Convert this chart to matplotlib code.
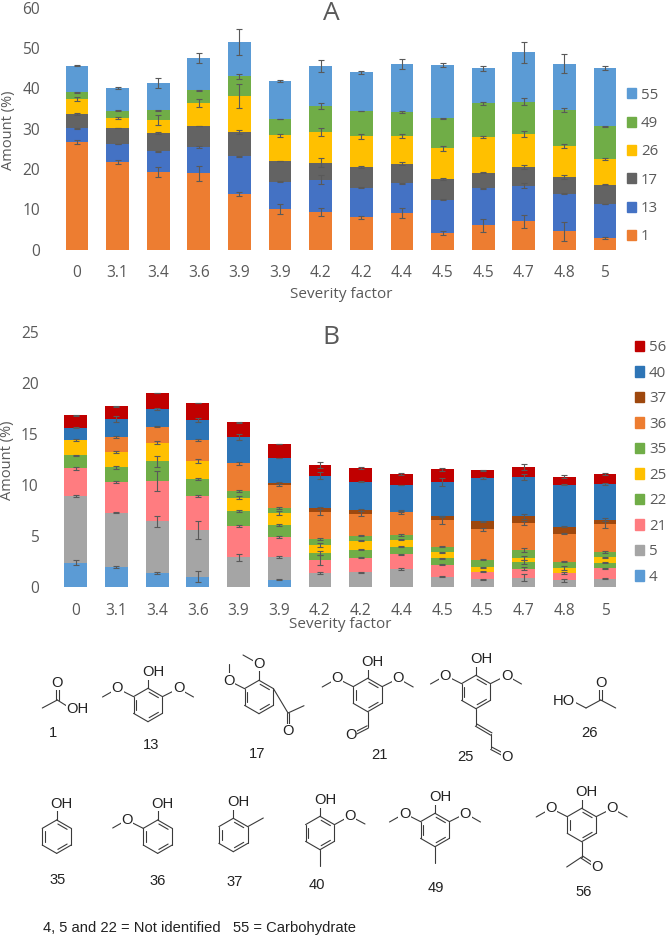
import numpy as np
import matplotlib
matplotlib.use('Agg')
import matplotlib.pyplot as plt
from matplotlib.patches import Patch

W, H = 666, 936
GREY = '#595959'
INK = '#3a3a3a'

plt.rcParams['font.family'] = ['Open Sans', 'DejaVu Sans']

severity = ['0', '3.1', '3.4', '3.6', '3.9', '3.9', '4.2', '4.2', '4.4', '4.5', '4.5', '4.7', '4.8', '5']

# panel A, bottom to top
labels_a = ['1', '13', '17', '26', '49', '55']
colors_a = ['#ED7D31', '#4472C4', '#636363', '#FFC000', '#70AD47', '#5B9BD5']
a_1 = [26.6, 21.8, 19.3, 18.9, 13.8, 10.1, 9.2, 8.0, 9.1, 4.1, 6.0, 7.0, 4.5, 2.8]
a_13 = [3.5, 4.4, 5.1, 6.5, 9.4, 6.7, 8.1, 7.4, 7.3, 8.3, 9.2, 8.9, 9.4, 8.5]
a_17 = [3.6, 4.0, 4.5, 5.3, 6.0, 5.2, 4.3, 5.1, 4.9, 5.1, 3.9, 4.6, 4.0, 4.8]
a_26 = [3.7, 2.4, 3.2, 5.7, 9.0, 6.4, 7.6, 7.6, 6.9, 7.6, 8.8, 8.2, 7.9, 6.4]
a_49 = [1.7, 1.9, 2.5, 3.2, 4.8, 4.0, 6.5, 6.3, 6.0, 7.5, 8.4, 8.0, 8.9, 8.1]
a_55 = [6.6, 5.7, 6.8, 8.0, 8.6, 9.4, 9.9, 9.6, 11.9, 13.3, 8.7, 12.3, 11.5, 14.6]
err_a_1 = [0.5, 0.5, 1.2, 1.8, 0.5, 1.2, 1.0, 0.3, 1.2, 0.6, 1.7, 1.6, 2.3, 0.3]
err_a_13 = [0.1, 0.1, 0.1, 0.2, 0.1, 0.1, 1.1, 0.2, 0.2, 0.2, 0.2, 0.6, 0.1, 0.1]
err_a_17 = [0.2, 0.1, 0.2, 0.1, 0.5, 0.1, 1.1, 0.3, 0.4, 0.3, 0.05, 0.6, 0.5, 0.1]
err_a_26 = [0.4, 0.2, 1.2, 0.9, 3.0, 0.4, 0.9, 0.7, 0.6, 0.6, 0.3, 0.7, 0.5, 0.3]
err_a_49 = [0.1, 0.1, 0.1, 0.1, 0.6, 0.05, 0.8, 0.05, 0.2, 0.1, 0.3, 0.9, 0.5, 0.05]
err_a_55 = [0.05, 0.2, 1.2, 1.3, 3.3, 0.2, 1.6, 0.4, 1.3, 0.5, 0.6, 2.6, 2.3, 0.5]

# panel B, bottom to top
labels_b = ['4', '5', '21', '22', '25', '35', '36', '37', '40', '56']
colors_b = ['#5B9BD5', '#A5A5A5', '#FF7C80', '#70AD47', '#FFC000', '#70AD47', '#ED7D31', '#9E480E', '#2E75B6', '#C00000']
b_4 = [2.35, 1.96, 1.37, 1.0, 0, 0.7, 0, 0, 0, 0, 0, 0, 0, 0]
b_5 = [6.55, 5.29, 5.03, 4.55, 2.9, 2.2, 1.37, 1.4, 1.75, 1.0, 0.75, 0.9, 0.65, 0.8]
b_21 = [2.7, 3.05, 3.95, 3.35, 3.05, 2.0, 1.23, 1.45, 1.45, 1.15, 0.7, 0.85, 0.7, 1.0]
b_22 = [1.3, 1.4, 1.95, 1.7, 1.45, 1.15, 0.7, 0.75, 0.7, 0.65, 0, 0.65, 0, 0.55]
b_25 = [1.5, 1.5, 1.8, 1.7, 1.3, 1.2, 0.8, 0.9, 0.7, 0.6, 0.45, 0.45, 0.45, 0.55]
b_35 = [0, 0, 0, 0, 0.7, 0.5, 0.6, 0.5, 0.45, 0.5, 0.75, 0.75, 0.65, 0.5]
b_36 = [0, 1.5, 1.6, 2.05, 2.7, 2.25, 2.6, 2.15, 2.25, 2.6, 3.0, 2.65, 2.75, 2.7]
b_37 = [0, 0, 0, 0, 0, 0.2, 0.4, 0.4, 0.05, 0.4, 0.75, 0.65, 0.7, 0.45]
b_40 = [1.2, 1.7, 1.7, 1.95, 2.6, 2.4, 3.2, 2.75, 2.6, 3.4, 4.3, 3.85, 4.1, 3.5]
b_56 = [1.2, 1.3, 1.6, 1.7, 1.4, 1.4, 1.0, 1.3, 1.1, 1.2, 0.7, 0.95, 0.8, 1.0]
err_b_4 = [0.25, 0.1, 0.1, 0.55, 0, 0.05, 0, 0, 0, 0, 0, 0, 0, 0]
err_b_5 = [0.1, 0.05, 0.5, 0.85, 0.35, 0.1, 0.1, 0.05, 0.1, 0.05, 0.05, 0.3, 0.15, 0.05]
err_b_21 = [0.15, 0.1, 1.0, 0.1, 0.1, 0.1, 0.5, 0.05, 0.05, 0.05, 0.05, 0.15, 0.1, 0.05]
err_b_22 = [0.05, 0.15, 0.55, 0.1, 0.1, 0.1, 0.2, 0.05, 0.05, 0.05, 0, 0.2, 0, 0.05]
err_b_25 = [0.1, 0.1, 0.15, 0.2, 0.15, 0.2, 0.2, 0.05, 0.05, 0.05, 0.05, 0.2, 0.2, 0.05]
err_b_35 = [0, 0, 0, 0, 0.1, 0.1, 0.1, 0.05, 0.1, 0.05, 0.05, 0.15, 0.05, 0.1]
err_b_36 = [0, 0.1, 0.05, 0.1, 0.15, 0.1, 0.3, 0.25, 0.2, 0.4, 0.15, 0.2, 0.05, 0.3]
err_b_37 = [0, 0, 0, 0, 0, 0.1, 0.1, 0.1, 0.05, 0.05, 0.05, 0.25, 0.05, 0.15]
err_b_40 = [0.02, 0.3, 0.1, 0.2, 0.3, 0.02, 0.3, 0.02, 0.02, 0.4, 0.1, 0.3, 0.05, 0.1]
err_b_56 = [0.05, 0.05, 0.02, 0.02, 0.02, 0.03, 0.3, 0.1, 0.1, 0.15, 0.02, 0.3, 0.15, 0.1]

series_a = [a_1, a_13, a_17, a_26, a_49, a_55]
errors_a = [err_a_1, err_a_13, err_a_17, err_a_26, err_a_49, err_a_55]
series_b = [b_4, b_5, b_21, b_22, b_25, b_35, b_36, b_37, b_40, b_56]
errors_b = [err_b_4, err_b_5, err_b_21, err_b_22, err_b_25, err_b_35, err_b_36, err_b_37, err_b_40, err_b_56]


def px_axes(left, right, top, bottom):
    return fig.add_axes([left / W, 1 - bottom / H, (right - left) / W, (bottom - top) / H])


def stacked(ax, series, errors, colors, ymax, yticks):
    x = np.arange(len(severity))
    bottom = np.zeros(len(severity))
    for vals, errs, col in zip(series, errors, colors):
        vals = np.array(vals, dtype=float)
        ax.bar(x, vals, 0.56, bottom=bottom, color=col, zorder=2)
        bottom = bottom + vals
        show = vals > 0
        ax.errorbar(x[show], bottom[show], yerr=np.array(errs)[show], fmt='none',
                    ecolor=GREY, elinewidth=0.8, capsize=2.4, capthick=0.8, zorder=3)
    ax.set_xlim(-0.5, len(severity) - 0.5)
    ax.set_ylim(0, ymax)
    ax.set_xticks(x)
    ax.set_xticklabels(severity)
    ax.set_yticks(yticks)
    ax.tick_params(length=0, labelsize=11.2, labelcolor=GREY)
    ax.tick_params(axis='x', pad=11.5)
    ax.tick_params(axis='y', pad=12)
    for s in ax.spines.values():
        s.set_visible(False)


def side_legend(ax, labels, colors, x, y, spacing):
    handles = [Patch(color=c, label=l) for c, l in zip(colors, labels)]
    leg = ax.legend(handles=handles[::-1], loc='center left', frameon=False,
                    bbox_to_anchor=(x / W, 1 - y / H), bbox_transform=fig.transFigure,
                    fontsize=10.8, labelcolor=GREY, handlelength=0.66, handleheight=0.66,
                    handletextpad=0.31, labelspacing=spacing, borderpad=0, borderaxespad=0)
    return leg


fig = plt.figure(figsize=(W / 100, H / 100), dpi=100)

ax_a = px_axes(56.7, 625.3, 8, 249.5)
stacked(ax_a, series_a, errors_a, colors_a, 60, [0, 10, 20, 30, 40, 50, 60])
side_legend(ax_a, labels_a, colors_a, 626.5, 166, 0.89)

ax_b = px_axes(55.3, 625.4, 331.7, 586.7)
stacked(ax_b, series_b, errors_b, colors_b, 25, [0, 5, 10, 15, 20, 25])
side_legend(ax_b, labels_b, colors_b, 634.5, 462.5, 0.7)

# structures and free text live on a pixel overlay
ov = fig.add_axes([0, 0, 1, 1], zorder=5)
ov.set_xlim(0, W)
ov.set_ylim(H, 0)
ov.axis('off')
ov.patch.set_alpha(0)

ov.text(331, 13, 'A', fontsize=19, color=GREY, ha='center', va='center')
ov.text(331, 338, 'B', fontsize=19, color=GREY, ha='center', va='center')
ov.text(9, 130, 'Amount (%)', fontsize=10.5, color=GREY, rotation=90, ha='center', va='center')
ov.text(8, 460, 'Amount (%)', fontsize=10.5, color=GREY, rotation=90, ha='center', va='center')
ov.text(341, 295, 'Severity factor', fontsize=11, color=GREY, ha='center', va='center')
ov.text(340.5, 625, 'Severity factor', fontsize=11, color=GREY, ha='center', va='center')


def bond(p, q, double=False):
    p, q = np.array(p, dtype=float), np.array(q, dtype=float)
    if double:
        d = q - p
        n = np.array([-d[1], d[0]]) / np.hypot(*d) * 1.3
        for s in (-1, 1):
            ov.plot([p[0] + s * n[0], q[0] + s * n[0]], [p[1] + s * n[1], q[1] + s * n[1]],
                    color=INK, lw=0.8, zorder=1, solid_capstyle='round')
    else:
        ov.plot([p[0], q[0]], [p[1], q[1]], color=INK, lw=0.8, zorder=1, solid_capstyle='round')


def atom(p, s):
    ov.text(p[0], p[1], s, fontsize=10.6, family='Liberation Sans', color='#222222', ha='center', va='center',
            zorder=2, bbox=dict(facecolor='white', edgecolor='none', pad=0.3))


def ring(cx, cy, r=16.7):
    ang = np.deg2rad(90 + 60 * np.arange(6))
    v = [(cx + r * np.cos(a), cy - r * np.sin(a)) for a in ang]
    c = np.array([cx, cy])
    for k in range(6):
        bond(v[k], v[(k + 1) % 6])
    for k in (1, 3, 5):
        p, q = np.array(v[k]), np.array(v[(k + 1) % 6])
        p2, q2 = c + (p - c) * 0.8, c + (q - c) * 0.8
        p3, q3 = p2 + (q2 - p2) * 0.1, q2 - (q2 - p2) * 0.1
        bond(p3, q3)
    return v


def hydroxyl(v, dx=5):
    p = (v[0][0], v[0][1] - 10)
    bond(v[0], p)
    atom((v[0][0] + dx, v[0][1] - 16), 'OH')


def methoxy(v, o, end):
    bond(v, o)
    bond(o, end)
    atom(o, 'O')


def syringyl(cx, cy):
    v = ring(cx, cy)
    hydroxyl(v)
    methoxy(v[1], (cx - 30.5, cy - 16.5), (cx - 45.5, cy - 8))
    methoxy(v[5], (cx + 30.5, cy - 16.5), (cx + 45.5, cy - 8))
    return v


# 1 acetic acid
bond((42.3, 708), (57.3, 700))
bond((57.3, 700), (57.3, 684), double=True)
bond((57.3, 700), (70, 708))
atom((57.3, 683), 'O')
atom((77.5, 709), 'OH')

# 13
syringyl(148, 705)

# 17
v = ring(259, 697)
bond(v[0], (259, 664))
atom((259, 664), 'O')
bond((259, 664), (243, 655))
bond(v[1], (229, 680.7))
atom((229, 680.7), 'O')
bond((229, 680.7), (229, 664))
bond(v[5], (288, 713))
bond((288, 713), (304, 705.7))
bond((288, 713), (288, 730), double=True)
atom((288, 731), 'O')

# 21
v = syringyl(367.7, 695)
bond(v[3], (367.7, 727))
bond((367.7, 727), (354, 734), double=True)
atom((351, 735), 'O')

# 25
v = syringyl(476, 692)
bond(v[3], (476, 725))
bond((476, 725), (491.3, 734), double=True)
bond((491.3, 734), (491.3, 748.3))
bond((491.3, 748.3), (504, 755), double=True)
atom((507, 757), 'O')

# 26
atom((564, 700.7), 'HO')
bond((572, 700.7), (586, 708))
bond((586, 708), (600.7, 700))
bond((600.7, 700), (600.7, 684), double=True)
atom((600.7, 683), 'O')
bond((600.7, 700), (615.7, 708))

# 35
hydroxyl(ring(56.7, 836.7))

# 36
v = ring(157.7, 836.7)
hydroxyl(v)
methoxy(v[1], (126.7, 820), (112.7, 828))

# 37
v = ring(233.3, 835)
hydroxyl(v)
bond(v[5], (263.3, 818))

# 40
v = ring(320, 833)
hydroxyl(v)
methoxy(v[5], (350, 816), (365, 824))
bond(v[3], (320, 866))

# 49
v = syringyl(435, 830)
bond(v[3], (435, 862.7))

# 56
v = syringyl(581.7, 825)
bond(v[3], (581.7, 857))
bond((581.7, 857), (566.7, 867))
bond((581.7, 857), (594, 865), double=True)
atom((596.7, 867), 'O')

# compound numbers
numbers = ['1', '13', '17', '21', '25', '26', '35', '36', '37', '40', '49', '56']
number_x = [53, 151, 257, 379, 465, 589, 58, 158, 235, 317, 436, 584]
number_y = [733, 745, 754, 755, 757, 733, 880, 881, 882, 885, 888, 892]
for s, nx, ny in zip(numbers, number_x, number_y):
    ov.text(nx, ny, s, fontsize=10.6, family='Liberation Sans', color='#222222', ha='center', va='center')

ov.text(43, 928, '4, 5 and 22 = Not identified   55 = Carbohydrate', fontsize=10.6,
        family='Liberation Sans', color='#222222', ha='left', va='center')

fig.savefig('out.png', dpi=100)
